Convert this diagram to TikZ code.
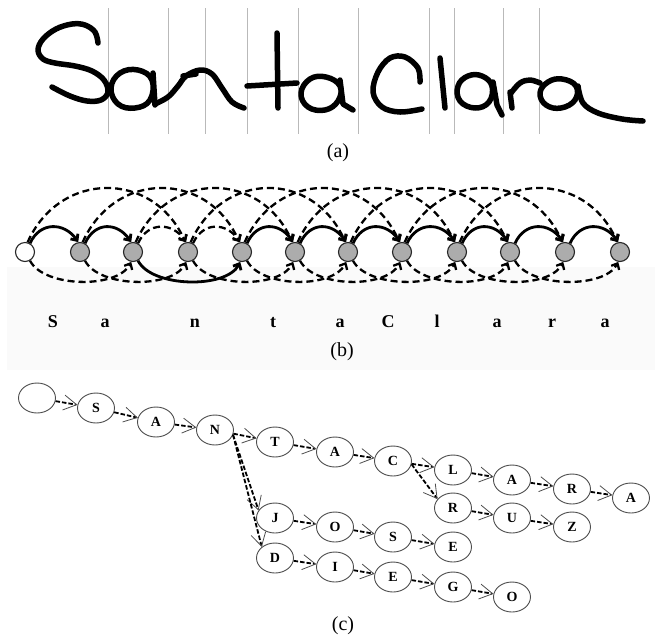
\documentclass[tikz,border=0pt]{standalone}
\usepackage{fontspec}
\setmainfont{Liberation Serif}
\usetikzlibrary{arrows.meta,shapes.geometric}

\begin{document}
\begin{tikzpicture}[x=1pt,y=-1pt,
  ink/.style={line width=5.5pt, line cap=round, line join=round},
  seg/.style={gray!55, line width=0.9pt},
  captxt/.style={font=\fontsize{20}{22}\selectfont},
  st/.style={circle, draw=black!85, fill=gray!65, line width=1.1pt, minimum size=19pt, inner sep=0pt},
  st0/.style={st, fill=white},
  hop/.style={line width=2.8pt, -{Straight Barb[length=5pt,width=9pt]}},
  alt/.style={hop, line width=2.3pt, dash pattern=on 7pt off 4pt},
  lab/.style={anchor=base, font=\bfseries\fontsize{18}{20}\selectfont},
  tn/.style={ellipse, draw=gray!60!black, line width=0.9pt, minimum width=37pt, minimum height=30pt, inner sep=0pt, font=\bfseries\fontsize{14}{15}\selectfont},
  te/.style={line width=1.8pt, dash pattern=on 4.5pt off 2pt, -{Straight Barb[length=13pt,width=15pt,line width=0.8pt,color=gray!60!black]}}
]
\path[use as bounding box] (0,0) rectangle (655,638);

% ---------------- (a) handwritten word with segmentation cuts
\foreach \x in {108,168,205,247,298,358,429,454,503,539}
  \draw[seg] (\x,8) -- (\x,134);

% S
\draw[ink] plot[smooth, tension=0.6] coordinates {(98,43) (95,32) (85,25) (72,24) (56,29) (43,39) (38,50) (43,59) (55,63) (75,66) (92,71) (104,80) (108,92) (101,100) (87,101) (70,96) (52,87)};
% a
\draw[ink] plot[smooth cycle, tension=0.7] coordinates {(152,80) (138,70) (120,73) (111,88) (118,104) (135,108) (150,100)};
\draw[ink] (153,73) -- (155,105);
% n
\draw[ink] plot[smooth, tension=0.6] coordinates {(155,104) (168,97) (178,86) (186,76) (200,70) (212,74) (222,88) (232,102) (244,108)};
\draw[ink] (183,76) -- (196,74);
% t
\draw[ink] (277,33) -- (278,108);
\draw[ink] (247,86) -- (297,83);
% a
\draw[ink] plot[smooth cycle, tension=0.7] coordinates {(340,86) (326,77) (310,79) (301,93) (308,107) (325,110) (338,101)};
\draw[ink] (340,80) -- (343,104) -- (353,110);
% C
\draw[ink] plot[smooth, tension=0.6] coordinates {(420,82) (418,68) (405,57) (390,58) (378,72) (373,92) (382,107) (400,112) (422,109)};
% l
\draw[ink] (440,58) -- (445,108);
% a
\draw[ink] plot[smooth cycle, tension=0.7] coordinates {(492,86) (482,76) (468,76) (458,86) (460,101) (475,108) (489,102)};
\draw[ink] (493,82) -- (497,105) -- (502,115);
% r
\draw[ink] (510,92) -- (512,108);
\draw[ink] plot[smooth, tension=0.6] coordinates {(511,93) (520,83) (530,80) (540,83)};
% a with long tail
\draw[ink] plot[smooth cycle, tension=0.7] coordinates {(576,86) (562,79) (548,82) (540,93) (546,105) (561,108) (575,100)};
\draw[ink] plot[smooth, tension=0.6] coordinates {(578,86) (583,103) (598,113) (622,119) (643,121)};

\node[captxt] (capa) at (338,153) {(a)};

% ---------------- (b) segmentation graph
\fill[black!2] (7,267) rectangle (655,370);

\node[st0] (g0) at (25,252) {};
\foreach \x [count=\i] in {80,133,188,242,295,348,402,457,510,565,620}
  \node[st] (g\i) at (\x,252) {};

% short hops above: best path solid, others dashed
\foreach \i/\j in {0/1,1/2,4/5,5/6,6/7,7/8,8/9,9/10,10/11}
  \draw[hop] (g\i.60) .. controls +(10,-22) and +(-14,-20) .. (g\j.100);
\foreach \i/\j in {2/3,3/4}
  \draw[alt] (g\i.60) .. controls +(10,-22) and +(-14,-20) .. (g\j.100);

% long hops above
\foreach \i/\k in {0/3,1/4,2/5,3/6,4/7,5/8,6/9,7/10,8/11}
  \draw[alt] (g\i.75) .. controls +(32,-72) and +(-32,-72) .. (g\k.105);

% hops below
\foreach \i/\k in {0/2,1/3,3/5,4/6,5/7,6/8,7/9,8/10,9/11}
  \draw[alt] (g\i.-60) .. controls +(14,27) and +(-14,27) .. (g\k.-100);
\draw[hop] (g2.-60) .. controls +(14,27) and +(-14,27) .. (g4.-100);

% letters of the segments
\node[lab] (l1) at (53,327) {S};
\node[lab] (l2) at (105,327) {a};
\node[lab] (l3) at (195,327) {n};
\node[lab] (l4) at (273,327) {t};
\node[lab] (l5) at (340,327) {a};
\node[lab] (l6) at (388,327) {C};
\node[lab] (l7) at (437,327) {l};
\node[lab] (l8) at (497,327) {a};
\node[lab] (l9) at (552,327) {r};
\node[lab] (l10) at (605,327) {a};

\node[captxt] (capb) at (342,352) {(b)};

% ---------------- (c) lexicon tree
\node[tn] (root) at (37,398) {};
\node[tn] (tS)  at (96,408)  {S};
\node[tn] (tA1) at (156,422) {A};
\node[tn] (tN)  at (215,430) {N};
\node[tn] (tT)  at (275,442) {T};
\node[tn] (tA2) at (335,452) {A};
\node[tn] (tC)  at (393,461) {C};
\node[tn] (tL)  at (453,470) {L};
\node[tn] (tA3) at (512,480) {A};
\node[tn] (tR1) at (572,489) {R};
\node[tn] (tA4) at (631,498) {A};
\node[tn] (tR2) at (453,508) {R};
\node[tn] (tU)  at (512,518) {U};
\node[tn] (tZ)  at (572,527) {Z};
\node[tn] (tJ)  at (275,518) {J};
\node[tn] (tO1) at (335,527) {O};
\node[tn] (tS2) at (393,537) {S};
\node[tn] (tE1) at (453,547) {E};
\node[tn] (tD)  at (275,558) {D};
\node[tn] (tI)  at (335,567) {I};
\node[tn] (tE2) at (393,577) {E};
\node[tn] (tG)  at (453,587) {G};
\node[tn] (tO2) at (512,597) {O};

\foreach \a/\b in {root/tS,tS/tA1,tA1/tN,tN/tT,tT/tA2,tA2/tC,tC/tL,tL/tA3,tA3/tR1,tR1/tA4,
                   tR2/tU,tU/tZ,tJ/tO1,tO1/tS2,tS2/tE1,tD/tI,tI/tE2,tE2/tG,tG/tO2}
  \draw[te] (\a) -- (\b);
\draw[te] (tC.-10) -- (tR2.150);
\draw[te] (tN.-15) -- (tJ.155);
\draw[te] (tN.-15) -- (tD.140);

\node[captxt] (capc) at (343,626) {(c)};
\end{tikzpicture}
\end{document}
